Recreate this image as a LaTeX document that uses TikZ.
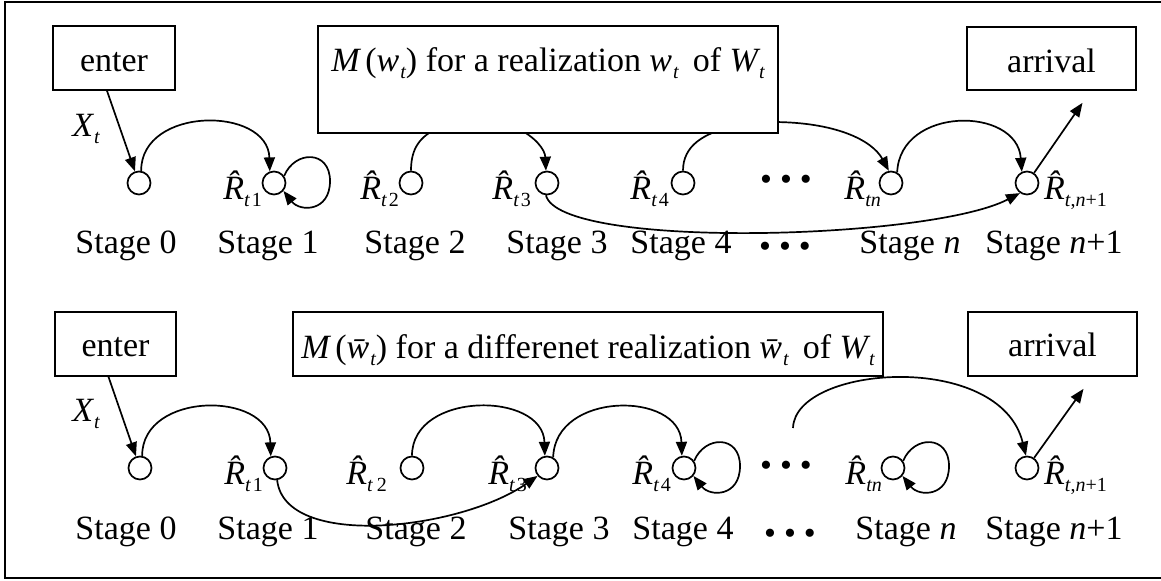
\documentclass[tikz,border=0pt]{standalone}
\usepackage{fontspec}
\setmainfont{Liberation Serif}
\usetikzlibrary{arrows.meta,calc}

% lowered small subscript and hatted R
\newcommand{\sbx}[1]{\raisebox{-0.2em}{\fontsize{10pt}{10pt}\selectfont #1}}
\newcommand{\Rhat}[1]{{\itshape\^R}\sbx{#1}}
\newcommand{\iv}[2]{{\itshape #1}\kern0.5pt\sbx{\itshape #2}}
\newcommand{\wbar}{{\itshape\=w}\kern0.5pt\sbx{\itshape t}}
% a loop leaving a state on the right and coming back to it
\newcommand{\selfloop}[1]{%
  \draw[arr] (#1.35) .. controls ($(#1)+(21,-33)$) and ($(#1)+(56,-33)$) .. ($(#1)+(56,-2)$)
    .. controls ($(#1)+(56,29)$) and ($(#1)+(26,29)$) .. (#1.-40);}

\begin{document}
\begin{tikzpicture}[x=0.5pt,y=-0.5pt,line width=0.85pt,
  txt/.style={font=\fontsize{17pt}{20pt}\selectfont,inner sep=0pt},
  st/.style={circle,draw,minimum size=11.5pt,inner sep=0pt},
  box/.style={draw,fill=white,inner sep=0pt,txt,text height=14pt,text depth=0pt},
  arr/.style={-{Triangle[length=7pt,width=5.5pt]}},
]
\useasboundingbox (0,0) rectangle (1161,581);
\draw[line width=1pt] (5,2) rectangle (1175,578);

% ---------- first realization ----------
\node[st] (a0) at (139,183) {};
\node[st] (a1) at (274,183) {};
\node[st] (a2) at (411,183) {};
\node[st] (a3) at (547,183) {};
\node[st] (a4) at (683,183) {};
\node[st] (an) at (891,183) {};
\node[st] (a6) at (1027,183) {};

\node[txt,anchor=base east] (ra1) at ($(a1.west)+(1,17)$) {\Rhat{\itshape t\kern1pt\upshape 1}};
\node[txt,anchor=base east] (ra2) at ($(a2.west)+(1,17)$) {\Rhat{\itshape t\kern1pt\upshape 2}};
\node[txt,anchor=base east] (ra3) at ($(a3.west)+(-3,17)$) {\Rhat{\itshape t\kern1pt\upshape 3}};
\node[txt,anchor=base east] (ra4) at ($(a4.west)+(-1,17)$) {\Rhat{\itshape t\kern1pt\upshape 4}};
\node[txt,anchor=base east] (ran) at ($(an.west)+(3,17)$) {\Rhat{\itshape tn}};
\node[txt,anchor=base west] (ra6) at ($(a6.east)+(4,17)$) {\Rhat{\itshape t\upshape ,\itshape n\upshape +1}};

\node[txt] (da) at (786,183) {•\kern4pt•\kern4pt•};

\foreach \x/\s/\t in {126/0/0,268/1/1,415/2/2,557/3/3,681/4/4}
  \node[txt,anchor=base] (sa\s) at (\x,254) {Stage \t};
\node[txt,anchor=base] (san) at (910,254) {Stage \textit{n}};
\node[txt,anchor=base] (sa6) at (1054,254) {Stage \textit{n}+1};
\node[txt] (dsa) at (785,250) {•\kern4pt•\kern4pt•};

% connectors that run under the model box
\coordinate (p2) at (440,127);
\coordinate (p3) at (515,127);
\coordinate (p4) at (735,126);
\coordinate (p5) at (772,122);
\draw (a2.north) .. controls (411,148) and (420,136) .. (p2);
\draw[arr] (p3) .. controls (536,137) and (545,150) .. (a3.95);
\draw (a4.north) .. controls (683,146) and (703,133) .. (p4);
\draw[arr] (p5) .. controls (835,122) and (872,140) .. (an.100);

\node[box,minimum width=61pt,minimum height=32pt] (e1) at (114,58) {enter};
\node[box,minimum width=230pt,minimum height=53.5pt,text height=0pt,text depth=7.5pt] (m1) at (548,79.5)
  {{\itshape M}\,(\iv{w}{t}) for a realization \iv{w}{t}\, of \iv{W}{t}};
\node[box,minimum width=84.5pt,minimum height=31.5pt] (r1) at (1051.5,58.5) {arrival};

\draw[arr] ($(e1.south)+(-7,0)$) -- (a0);
\node[txt,anchor=base] (xa) at (86,137) {\iv{X}{t}};
\draw[arr] (a0.80) .. controls (141,106) and (268,106) .. (a1.110);
\selfloop{a1}
\draw[arr] (an.60) .. controls (900,106) and (1017,106) .. (a6.115);
\draw[arr] (a6.55) -- ($(r1.south)+(31,12)$);
\draw[arr] (a3.-95) .. controls (560,250) and (930,240) .. (a6.-125);

% ---------- second realization ----------
\node[st] (b0) at (140,468) {};
\node[st] (b1) at (275,468) {};
\node[st] (b2) at (412,468) {};
\node[st] (b3) at (547,468) {};
\node[st] (b4) at (684,468) {};
\node[st] (bn) at (893,468) {};
\node[st] (b6) at (1027,468) {};

\node[txt,anchor=base east] (rb1) at ($(b1.west)+(1,17)$) {\Rhat{\itshape t\kern1pt\upshape 1}};
\node[txt,anchor=base east] (rb2) at ($(b2.west)+(-12,17)$) {\Rhat{\itshape t\kern2pt\upshape 2}};
\node[txt,anchor=base east] (rb3) at ($(b3.west)+(-7,17)$) {\Rhat{\itshape t\kern1pt\upshape 3}};
\node[txt,anchor=base east] (rb4) at ($(b4.west)+(0,17)$) {\Rhat{\itshape t\kern1pt\upshape 4}};
\node[txt,anchor=base east] (rbn) at ($(bn.west)+(2,17)$) {\Rhat{\itshape tn}};
\node[txt,anchor=base west] (rb6) at ($(b6.east)+(4,17)$) {\Rhat{\itshape t\upshape ,\itshape n\upshape +1}};

\node[txt] (db) at (786,469) {•\kern4pt•\kern4pt•};

\foreach \x/\s/\t in {126/0/0,268/1/1,416/2/2,559/3/3,683/4/4}
  \node[txt,anchor=base] (sb\s) at (\x,540) {Stage \t};
\node[txt,anchor=base] (sbn) at (906,540) {Stage \textit{n}};
\node[txt,anchor=base] (sb6) at (1054,540) {Stage \textit{n}+1};
\node[txt] (dsb) at (790,537) {•\kern4pt•\kern4pt•};

\node[box,minimum width=60.5pt,minimum height=32pt,text height=13pt] (e2) at (115.5,344) {enter};
\node[box,minimum width=295pt,minimum height=32pt,text height=15pt] (m2) at (588,344)
  {{\itshape M}\,(\wbar) for a differenet realization \wbar\, of \iv{W}{t}};
\node[box,minimum width=84.5pt,minimum height=32pt,text height=13pt] (r2) at (1052.5,344) {arrival};

\draw[arr] ($(e2.south)+(-7,0)$) -- (b0);
\node[txt,anchor=base] (xb) at (86,422) {\iv{X}{t}};
\draw[arr] (b0.80) .. controls (142,391) and (269,391) .. (b1.110);
\draw[arr] (b1.-80) .. controls (285,550) and (460,530) .. (b3.-140);
\draw[arr] (b2.90) .. controls (412,391) and (543,391) .. (b3.100);
\draw[arr] (b3.60) .. controls (555,391) and (680,391) .. (b4.100);
\selfloop{b4}
\selfloop{bn}
\coordinate (q) at (793,428);
\draw[arr] (q) .. controls (795,365) and (1000,350) .. (b6.95);
\draw[arr] (b6.55) -- ($(r2.south)+(31,12)$);
\end{tikzpicture}
\end{document}
